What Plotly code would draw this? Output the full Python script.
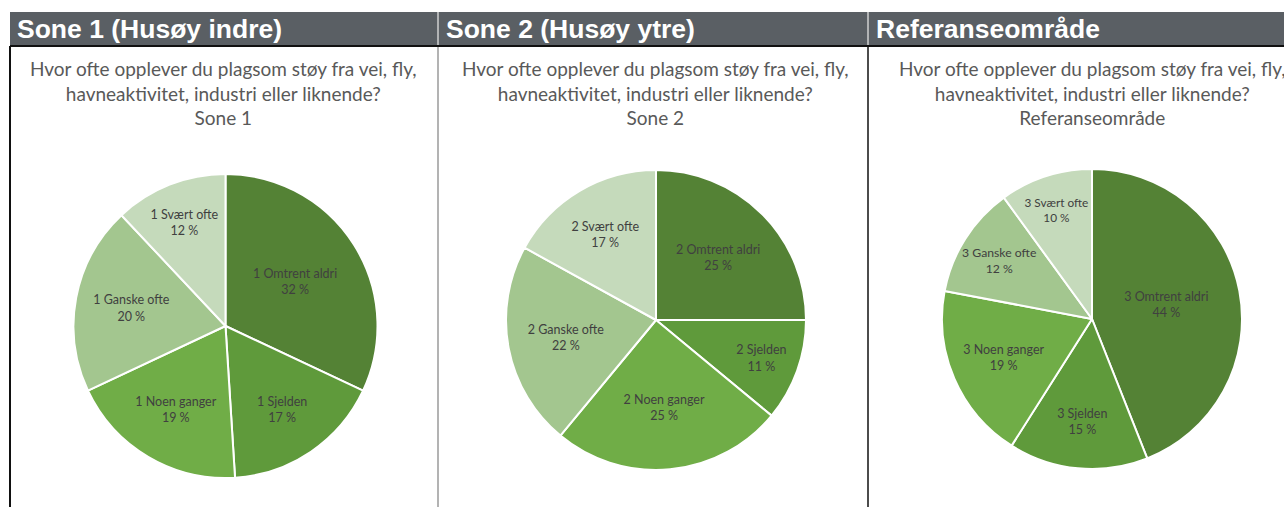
import plotly.graph_objects as go

# Data
categories = ["Omtrent aldri", "Sjelden", "Noen ganger", "Ganske ofte", "Svært ofte"]
sone1_values = [32, 17, 19, 20, 12]
sone2_values = [25, 11, 25, 22, 17]
referanse_values = [44, 15, 19, 12, 10]

panel_headers = ["Sone 1 (Husøy indre)", "Sone 2 (Husøy ytre)", "Referanseområde"]
chart_subtitles = ["Sone 1", "Sone 2", "Referanseområde"]
label_prefixes = ["1", "2", "3"]
question = "Hvor ofte opplever du plagsom støy fra vei, fly,<br>havneaktivitet, industri eller liknende?"

slice_colors = ["#548235", "#5f9a3b", "#70ad47", "#a3c68f", "#c5dabb"]

W, H = 1284, 507


def px_x(x):
    return x / W


def px_y(y):
    return 1 - y / H


fig = go.Figure()

all_values = [sone1_values, sone2_values, referanse_values]
pie_boxes = [(73, 378, 174, 478), (506, 806, 170, 470), (941, 1243, 169, 469)]

for values, prefix, (x0, x1, y0, y1) in zip(all_values, label_prefixes, pie_boxes):
    labels = [f"{prefix} {c}" for c in categories]
    fig.add_trace(go.Pie(
        labels=labels,
        values=values,
        sort=False,
        direction="clockwise",
        rotation=0,
        marker=dict(colors=slice_colors, line=dict(color="white", width=2)),
        texttemplate="%{label}<br>%{value} %",
        textposition="inside",
        insidetextorientation="horizontal",
        textfont=dict(family="Lato, Open Sans, sans-serif", size=12.5, color="#404040"),
        hoverinfo="label+value",
        showlegend=False,
        domain=dict(x=[px_x(x0), px_x(x1)], y=[px_y(y1), px_y(y0)]),
    ))

shapes = []
# dark header band
shapes.append(dict(type="rect", xref="paper", yref="paper",
                   x0=px_x(10), x1=1, y0=px_y(46), y1=px_y(12),
                   fillcolor="#5a5f64", line=dict(width=0), layer="below"))
# black rule under header
shapes.append(dict(type="line", xref="paper", yref="paper",
                   x0=px_x(10), x1=1, y0=px_y(46), y1=px_y(46),
                   line=dict(color="#111111", width=2)))
# left border
shapes.append(dict(type="line", xref="paper", yref="paper",
                   x0=px_x(10), x1=px_x(10), y0=px_y(46), y1=0,
                   line=dict(color="#111111", width=2)))
# separators in header (light)
for sx in [438, 868]:
    shapes.append(dict(type="line", xref="paper", yref="paper",
                       x0=px_x(sx), x1=px_x(sx), y0=px_y(12), y1=px_y(45),
                       line=dict(color="#d0d0d0", width=1.5)))
# separators below header
shapes.append(dict(type="line", xref="paper", yref="paper",
                   x0=px_x(438), x1=px_x(438), y0=px_y(47), y1=0,
                   line=dict(color="#9a9a9a", width=1.5)))
shapes.append(dict(type="line", xref="paper", yref="paper",
                   x0=px_x(868), x1=px_x(868), y0=px_y(47), y1=0,
                   line=dict(color="#111111", width=1.5)))

annotations = []
header_x = [15, 444, 874]
for hx, text in zip(header_x, panel_headers):
    annotations.append(dict(x=px_x(hx), y=px_y(29), xref="paper", yref="paper",
                            text=f"<b>{text}</b>", showarrow=False,
                            xanchor="left", yanchor="middle",
                            font=dict(family="Liberation Sans, Arial, sans-serif", size=26.5, color="white")))

title_cx = [223, 655, 1092]
for cx, sub in zip(title_cx, chart_subtitles):
    annotations.append(dict(x=px_x(cx), y=px_y(55), xref="paper", yref="paper",
                            text=f"{question}<br>{sub}", showarrow=False,
                            xanchor="center", yanchor="top", align="center",
                            font=dict(family="Lato, Open Sans, sans-serif", size=19, color="#595959")))

fig.update_layout(
    width=W, height=H,
    margin=dict(l=0, r=0, t=0, b=0),
    paper_bgcolor="white",
    plot_bgcolor="white",
    shapes=shapes,
    annotations=annotations,
)

fig.write_html("out.html", config={"displayModeBar": False},
               post_script="document.body.style.margin='0';")
